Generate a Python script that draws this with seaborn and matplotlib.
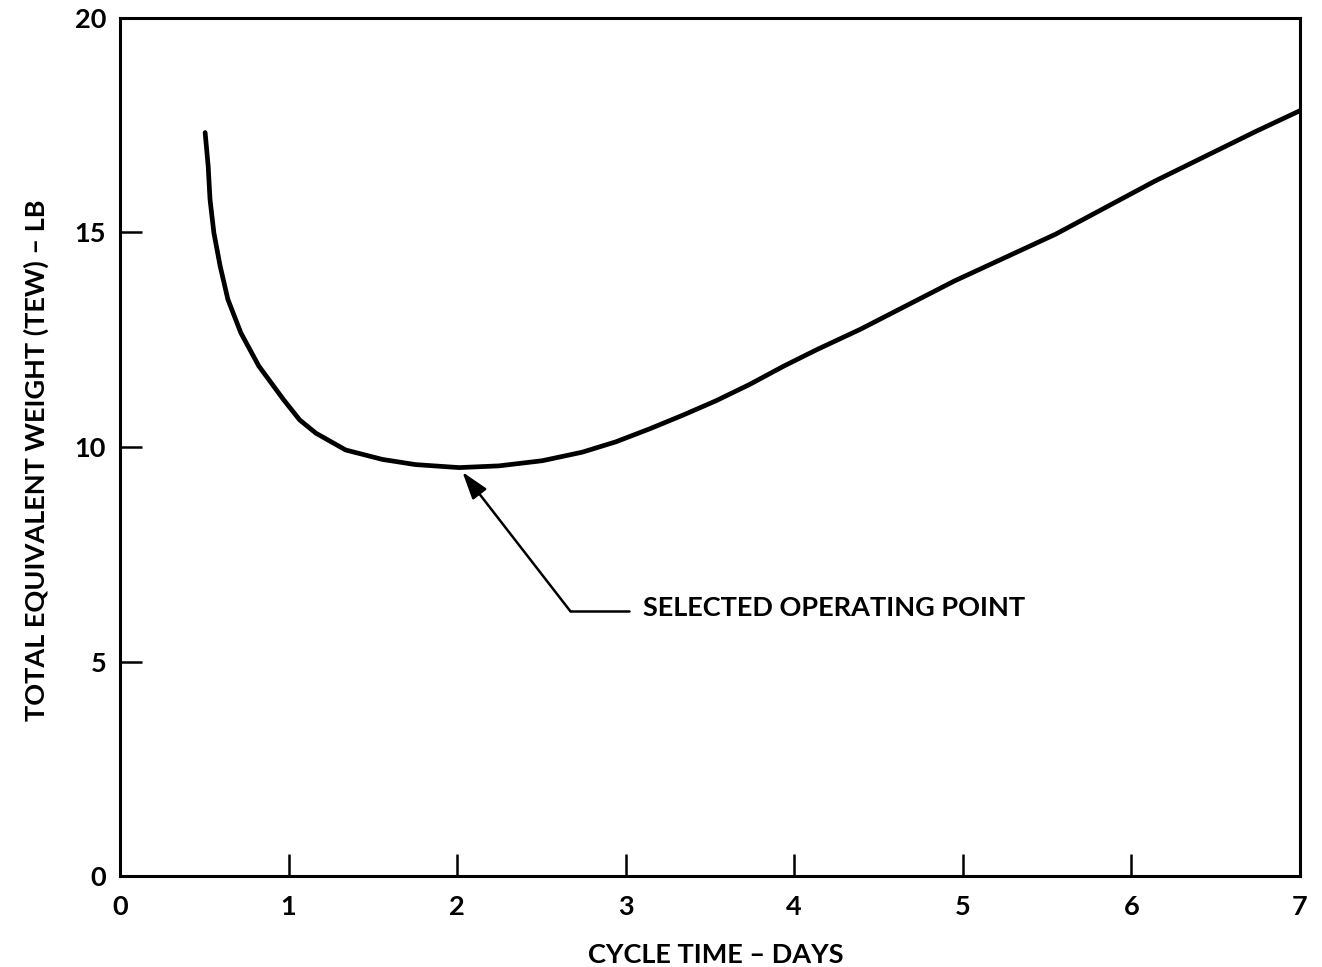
import matplotlib
matplotlib.use("Agg")
import matplotlib.pyplot as plt
import seaborn as sns
import pandas as pd

# ---- data ----
cycle_days = [0.505, 0.523, 0.534, 0.557, 0.594, 0.640, 0.717, 0.823, 0.969, 1.066,
              1.163, 1.339, 1.557, 1.753, 2.011, 2.248, 2.505, 2.743, 2.941, 3.140,
              3.338, 3.537, 3.736, 3.935, 4.134, 4.39, 4.95, 5.55, 6.14, 6.74, 7.0]
tew_lb = [17.33, 16.55, 15.77, 14.99, 14.22, 13.44, 12.66, 11.89, 11.11, 10.63,
          10.32, 9.93, 9.71, 9.59, 9.52, 9.56, 9.68, 9.88, 10.12, 10.42,
          10.74, 11.08, 11.46, 11.88, 12.27, 12.74, 13.87, 14.96, 16.20, 17.36, 17.84]
x_ticks = [0, 1, 2, 3, 4, 5, 6, 7]
y_ticks = [0, 5, 10, 15, 20]
x_label = "CYCLE TIME \u2013 DAYS"
y_label = "TOTAL EQUIVALENT WEIGHT (TEW) \u2013 LB"
note_text = "SELECTED OPERATING POINT"
operating_point = (2.011, 9.52)

df = pd.DataFrame({"days": cycle_days, "tew": tew_lb})

sns.set_theme(style="ticks")
plt.rcParams["font.family"] = ["Lato", "DejaVu Sans"]

FS = 19.5
FW = "bold"

fig = plt.figure(figsize=(13.22, 9.67), dpi=100)
ax = fig.add_axes([120 / 1322, 1 - 876 / 967, 1180 / 1322, 858 / 967])

sns.lineplot(data=df, x="days", y="tew", ax=ax, color="black", linewidth=3.4,
             sort=False, estimator=None, legend=False)

ax.set_xlim(0, 7)
ax.set_ylim(0, 20)
ax.set_xticks(x_ticks)
ax.set_yticks(y_ticks)
ax.set_xticklabels([str(t) for t in x_ticks], fontweight=FW)
ax.set_yticklabels([str(t) for t in y_ticks], fontweight=FW)

for s in ax.spines.values():
    s.set_visible(True)
    s.set_linewidth(2.2)
    s.set_color("black")

ax.tick_params(axis="both", direction="in", length=16, width=1.8, color="black",
               labelsize=FS, labelcolor="black")
ax.tick_params(axis="x", pad=14)
ax.tick_params(axis="y", pad=10)

ax.set_xlabel(x_label, fontsize=FS, color="black", fontweight=FW)
ax.set_ylabel(y_label, fontsize=FS, color="black", fontweight=FW)
ax.xaxis.set_label_coords(0.505, -0.078)
ax.yaxis.set_label_coords(-0.060, 0.484)

# annotation: horizontal leader then arrow to the operating point
elbow = (2.67, 6.18)
line_end = (3.02, 6.18)
ax.plot([elbow[0], line_end[0]], [elbow[1], line_end[1]], color="black", lw=1.8)
ax.annotate("", xy=operating_point, xytext=elbow,
            arrowprops=dict(arrowstyle="-|>,head_length=1.4,head_width=0.45",
                            color="black", lw=1.8, shrinkA=0, shrinkB=4))
ax.text(3.10, 6.25, note_text, fontsize=FS, color="black", va="center", ha="left",
        fontweight=FW)

ax.grid(False)
fig.savefig("out.png", dpi=100)
